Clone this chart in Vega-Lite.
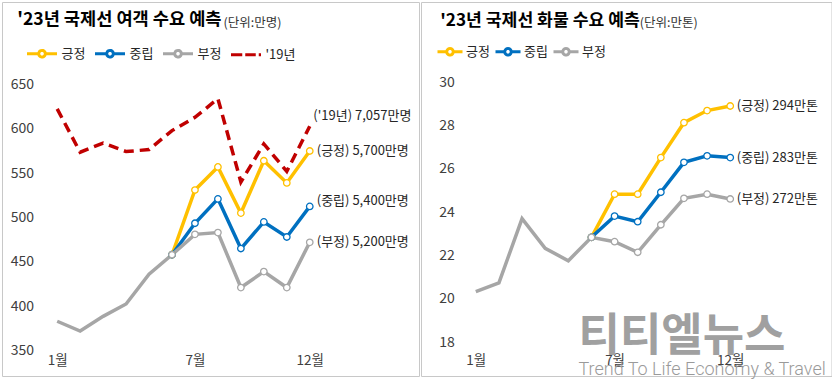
{
  "$schema": "https://vega.github.io/schema/vega-lite/v6.json",
  "padding": {"left": 1, "top": 1, "right": 0, "bottom": 0},
  "background": "white",
  "spacing": 0,
  "config": {
    "font": "Noto Sans CJK KR",
    "view": {"stroke": "#C8C8C8", "strokeWidth": 1},
    "axis": {"domain": false, "ticks": false, "tickSize": 0, "grid": false, "labelPadding": 0, "labelFont": "Noto Sans CJK KR", "labelColor": "#404040"}
  },
  "title": {
    "text": "티티엘뉴스",
    "subtitle": "Trend To Life Economy & Travel",
    "orient": "bottom",
    "anchor": "start",
    "frame": "bounds",
    "offset": 0,
    "dx": 577,
    "dy": -62,
    "baseline": "top",
    "fontSize": 45,
    "font": "Noto Sans CJK KR",
    "fontWeight": 700,
    "color": "#A0A0A0",
    "subtitleFont": "Roboto",
    "subtitleFontSize": 18,
    "subtitleFontWeight": 300,
    "subtitleColor": "#9A9A9A",
    "subtitlePadding": 1
  },
  "datasets": {
    "pax": [
      {"s": "19년", "m": 1, "v": 622.5}, {"s": "19년", "m": 2, "v": 573.6}, {"s": "19년", "m": 3, "v": 584}, {"s": "19년", "m": 4, "v": 574.4},
      {"s": "19년", "m": 5, "v": 576.6}, {"s": "19년", "m": 6, "v": 598}, {"s": "19년", "m": 7, "v": 613}, {"s": "19년", "m": 8, "v": 634},
      {"s": "19년", "m": 9, "v": 540}, {"s": "19년", "m": 10, "v": 583}, {"s": "19년", "m": 11, "v": 552}, {"s": "19년", "m": 12, "v": 603},
      {"s": "긍정", "m": 6, "v": 458}, {"s": "긍정", "m": 7, "v": 531}, {"s": "긍정", "m": 8, "v": 557}, {"s": "긍정", "m": 9, "v": 505},
      {"s": "긍정", "m": 10, "v": 564}, {"s": "긍정", "m": 11, "v": 539}, {"s": "긍정", "m": 12, "v": 575},
      {"s": "중립", "m": 6, "v": 458}, {"s": "중립", "m": 7, "v": 493.5}, {"s": "중립", "m": 8, "v": 521}, {"s": "중립", "m": 9, "v": 465},
      {"s": "중립", "m": 10, "v": 495}, {"s": "중립", "m": 11, "v": 478}, {"s": "중립", "m": 12, "v": 512.5},
      {"s": "부정", "m": 1, "v": 383}, {"s": "부정", "m": 2, "v": 372}, {"s": "부정", "m": 3, "v": 388.5}, {"s": "부정", "m": 4, "v": 402.5},
      {"s": "부정", "m": 5, "v": 436}, {"s": "부정", "m": 6, "v": 458}, {"s": "부정", "m": 7, "v": 481}, {"s": "부정", "m": 8, "v": 483},
      {"s": "부정", "m": 9, "v": 421}, {"s": "부정", "m": 10, "v": 439}, {"s": "부정", "m": 11, "v": 421}, {"s": "부정", "m": 12, "v": 472}
    ],
    "cargo": [
      {"s": "긍정", "m": 6, "v": 22.84}, {"s": "긍정", "m": 7, "v": 24.83}, {"s": "긍정", "m": 8, "v": 24.83}, {"s": "긍정", "m": 9, "v": 26.52},
      {"s": "긍정", "m": 10, "v": 28.13}, {"s": "긍정", "m": 11, "v": 28.69}, {"s": "긍정", "m": 12, "v": 28.9},
      {"s": "중립", "m": 6, "v": 22.84}, {"s": "중립", "m": 7, "v": 23.82}, {"s": "중립", "m": 8, "v": 23.56}, {"s": "중립", "m": 9, "v": 24.92},
      {"s": "중립", "m": 10, "v": 26.3}, {"s": "중립", "m": 11, "v": 26.6}, {"s": "중립", "m": 12, "v": 26.52},
      {"s": "부정", "m": 1, "v": 20.33}, {"s": "부정", "m": 2, "v": 20.74}, {"s": "부정", "m": 3, "v": 23.7}, {"s": "부정", "m": 4, "v": 22.33},
      {"s": "부정", "m": 5, "v": 21.76}, {"s": "부정", "m": 6, "v": 22.84}, {"s": "부정", "m": 7, "v": 22.64}, {"s": "부정", "m": 8, "v": 22.15},
      {"s": "부정", "m": 9, "v": 23.42}, {"s": "부정", "m": 10, "v": 24.64}, {"s": "부정", "m": 11, "v": 24.83}, {"s": "부정", "m": 12, "v": 24.61}
    ],
    "gridL": [{"v": 350}, {"v": 400}, {"v": 450}, {"v": 500}, {"v": 550}, {"v": 600}, {"v": 650}],
    "gridR": [{"v": 18}, {"v": 20}, {"v": 22}, {"v": 24}, {"v": 26}, {"v": 28}, {"v": 30}],
    "labL": [
      {"s": "19년", "m": 12, "v": 603, "t": "('19년) 7,057만명"},
      {"s": "긍정", "m": 12, "v": 575, "t": "(긍정) 5,700만명"},
      {"s": "중립", "m": 12, "v": 512.5, "t": "(중립) 5,400만명"},
      {"s": "부정", "m": 12, "v": 472, "t": "(부정) 5,200만명"}
    ],
    "labR": [
      {"s": "긍정", "m": 12, "v": 28.9, "t": "(긍정) 294만톤"},
      {"s": "중립", "m": 12, "v": 26.52, "t": "(중립) 283만톤"},
      {"s": "부정", "m": 12, "v": 24.61, "t": "(부정) 272만톤"}
    ]
  },
  "resolve": {"scale": {"color": "independent", "x": "independent", "y": "independent"}, "legend": {"color": "independent"}},
  "hconcat": [
    {
      "width": 417,
      "height": 374,
      "title": {"text": "'23년 국제선 여객 수요 예측", "anchor": "start", "frame": "group", "offset": 0, "dx": 15.2, "dy": 41, "baseline": "alphabetic", "fontSize": 17.6, "fontWeight": "bold", "color": "#000000", "font": "Noto Sans CJK KR"},
      "encoding": {
        "x": {"field": "m", "type": "quantitative", "scale": {"domain": [-1.404, 16.758], "nice": false, "zero": false},
              "axis": {"values": [1, 7, 12], "labelExpr": "datum.value + '월'", "offset": -23, "title": null, "labelFontSize": 13.5, "labelAlign": "center", "labelBaseline": "top", "labelFlush": false, "labelOverlap": false}},
        "y": {"field": "v", "type": "quantitative", "scale": {"domain": [321.24, 743.05], "nice": false, "zero": false},
              "axis": {"values": [350, 400, 450, 500, 550, 600, 650], "offset": -31.5, "title": "(단위:만명)", "titleX": 189.5, "titleY": 24.5, "titleAngle": 0, "titleAlign": "left", "titleBaseline": "alphabetic", "titleFontSize": 12.5, "titleFontWeight": "normal", "titleColor": "#333333", "titleFont": "Noto Sans CJK KR", "labelFontSize": 14, "labelOverlap": false}},
        "color": {"field": "s", "type": "nominal",
                  "scale": {"domain": ["긍정", "중립", "부정", "19년"], "range": ["#FFC000", "#0070C0", "#A6A6A6", "#C00000"]},
                  "legend": {"orient": "none", "legendX": 23.5, "legendY": 35.1, "direction": "horizontal", "title": null,
                             "symbolSize": 900, "symbolStrokeWidth": 3,
                             "labelFontSize": 13, "labelColor": "#262626", "labelFont": "Noto Sans CJK KR", "labelOffset": 3, "columnPadding": 3,
                             "labelExpr": "datum.label === '19년' ? \"'19년\" : datum.label",
                             "encode": {"symbols": {"update": {
                               "shape": {"signal": "datum.value === '19년' ? 'M-1,0L-0.25,0M-0.05,0L0.65,0M0.85,0L1,0' : 'M-1,0L-0.22,0M0.22,0L1,0M-0.22,0A0.22,0.22 0 1,1 0.22,0A0.22,0.22 0 1,1 -0.22,0'"},
                               "fill": {"signal": "datum.value === '19년' ? 'transparent' : 'white'"},
                               "stroke": {"signal": "datum.value === '긍정' ? '#FFC000' : datum.value === '중립' ? '#0070C0' : datum.value === '부정' ? '#A6A6A6' : '#C00000'"},
                               "strokeWidth": {"value": 3},
                               "strokeDash": {"value": [1, 0]},
                               "opacity": {"value": 1}
                             }}}}}
      },
      "layer": [
        {"data": {"name": "gridL"}, "mark": {"type": "rule", "strokeWidth": 1},
         "encoding": {"x": {"datum": 0.49, "type": "quantitative", "scale": {"domain": [-1.404, 16.758], "nice": false, "zero": false}}, "x2": {"datum": 12.47}, "color": {"value": "#D9D9D9"}}},
        {"data": {"name": "pax"}, "transform": [{"filter": "datum.s === '19년'"}], "mark": {"type": "line", "strokeWidth": 3.5, "strokeDash": [10, 6]}},
        {"data": {"name": "pax"}, "transform": [{"filter": "datum.s !== '19년'"}], "mark": {"type": "line", "strokeWidth": 3.5}},
        {"data": {"name": "pax"}, "transform": [{"filter": "datum.s !== '19년' && datum.m >= 6"}], "mark": {"type": "point", "filled": false, "fill": "white", "size": 42, "strokeWidth": 1.3, "opacity": 1}},
        {"data": {"name": "labL"}, "transform": [{"filter": "datum.s === '19년'"}], "mark": {"type": "text", "align": "left", "baseline": "middle", "dx": 3.5, "dy": -10, "fontSize": 13, "font": "Noto Sans CJK KR"}, "encoding": {"text": {"field": "t"}, "color": {"value": "#262626"}}},
        {"data": {"name": "labL"}, "transform": [{"filter": "datum.s === '중립'"}], "mark": {"type": "text", "align": "left", "baseline": "middle", "dx": 7, "dy": -5, "fontSize": 13, "font": "Noto Sans CJK KR"}, "encoding": {"text": {"field": "t"}, "color": {"value": "#262626"}}},
        {"data": {"name": "labL"}, "transform": [{"filter": "datum.s === '긍정' || datum.s === '부정'"}], "mark": {"type": "text", "align": "left", "baseline": "middle", "dx": 7, "dy": 0, "fontSize": 13, "font": "Noto Sans CJK KR"}, "encoding": {"text": {"field": "t"}, "color": {"value": "#262626"}}}
      ]
    },
    {
      "width": 410.5,
      "height": 374,
      "title": {"text": "'23년 국제선 화물 수요 예측", "anchor": "start", "frame": "group", "offset": 0, "dx": 19.2, "dy": 41, "baseline": "alphabetic", "fontSize": 17.2, "fontWeight": "bold", "color": "#000000", "font": "Noto Sans CJK KR"},
      "encoding": {
        "x": {"field": "m", "type": "quantitative", "scale": {"domain": [-1.369, 16.378], "nice": false, "zero": false},
              "axis": {"values": [1, 7, 12], "labelExpr": "datum.value + '월'", "offset": -23, "title": null, "labelFontSize": 13.5, "labelAlign": "center", "labelBaseline": "top", "labelFlush": false, "labelOverlap": false}},
        "y": {"field": "v", "type": "quantitative", "scale": {"domain": [16.44, 33.70], "nice": false, "zero": false},
              "axis": {"values": [18, 20, 22, 24, 26, 28, 30], "offset": -33.2, "title": "(단위:만톤)", "titleX": 185, "titleY": 24.5, "titleAngle": 0, "titleAlign": "left", "titleBaseline": "alphabetic", "titleFontSize": 12.5, "titleFontWeight": "normal", "titleColor": "#333333", "titleFont": "Noto Sans CJK KR", "labelFontSize": 14, "labelOverlap": false}},
        "color": {"field": "s", "type": "nominal",
                  "scale": {"domain": ["긍정", "중립", "부정"], "range": ["#FFC000", "#0070C0", "#A6A6A6"]},
                  "legend": {"orient": "none", "legendX": 15, "legendY": 35.4, "direction": "horizontal", "title": null,
                             "symbolSize": 625, "symbolStrokeWidth": 3,
                             "labelFontSize": 13, "labelColor": "#262626", "labelFont": "Noto Sans CJK KR", "labelOffset": 2, "columnPadding": -1,
                             "encode": {"symbols": {"update": {
                               "shape": {"value": "M-1,0L-0.26,0M0.26,0L1,0M-0.26,0A0.26,0.26 0 1,1 0.26,0A0.26,0.26 0 1,1 -0.26,0"},
                               "fill": {"value": "white"},
                               "stroke": {"signal": "datum.value === '긍정' ? '#FFC000' : datum.value === '중립' ? '#0070C0' : '#A6A6A6'"},
                               "strokeWidth": {"value": 3},
                               "strokeDash": {"value": [1, 0]},
                               "opacity": {"value": 1}
                             }}}}}
      },
      "layer": [
        {"data": {"name": "gridR"}, "mark": {"type": "rule", "strokeWidth": 1},
         "encoding": {"x": {"datum": 0.55, "type": "quantitative", "scale": {"domain": [-1.369, 16.378], "nice": false, "zero": false}}, "x2": {"datum": 12.45}, "color": {"value": "#D9D9D9"}}},
        {"data": {"name": "cargo"}, "mark": {"type": "line", "strokeWidth": 3.5}},
        {"data": {"name": "cargo"}, "transform": [{"filter": "datum.m >= 6"}], "mark": {"type": "point", "filled": false, "fill": "white", "size": 42, "strokeWidth": 1.3, "opacity": 1}},
        {"data": {"name": "labR"}, "mark": {"type": "text", "align": "left", "baseline": "middle", "dx": 6.5, "dy": 0, "fontSize": 13, "font": "Noto Sans CJK KR"}, "encoding": {"text": {"field": "t"}, "color": {"value": "#262626"}}}
      ]
    }
  ]
}
